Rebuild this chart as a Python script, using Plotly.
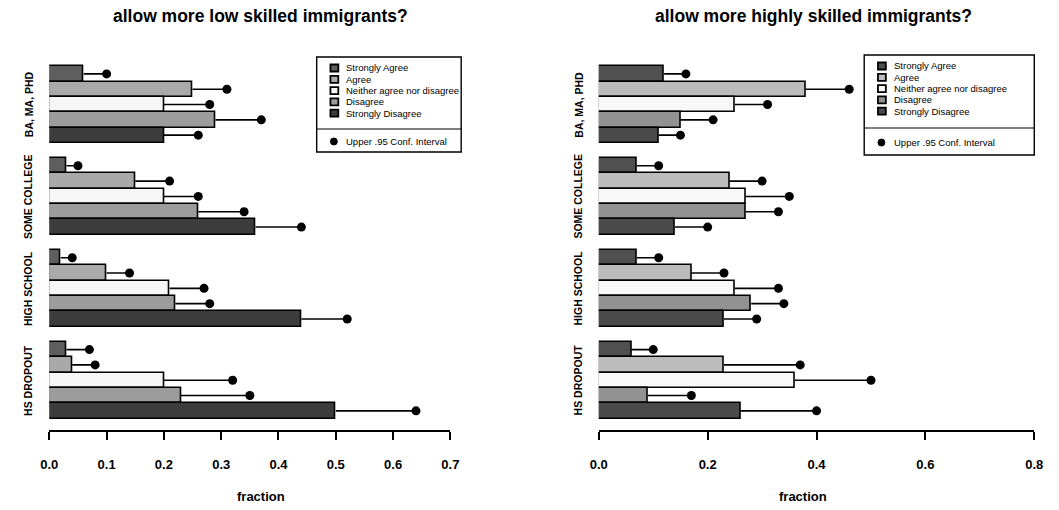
import plotly.graph_objects as go

# Education groups, bottom to top
groups = ["HS DROPOUT", "HIGH SCHOOL", "SOME COLLEGE", "BA, MA, PHD"]
# Response categories, drawn top to bottom inside each group
responses = ["Strongly Agree", "Agree", "Neither agree nor disagree",
             "Disagree", "Strongly Disagree"]

# Fractions per response, one entry per group (HS dropout .. BA)
low_share = {
    "Strongly Agree":             [0.03, 0.02, 0.03, 0.06],
    "Agree":                      [0.04, 0.10, 0.15, 0.25],
    "Neither agree nor disagree": [0.20, 0.21, 0.20, 0.20],
    "Disagree":                   [0.23, 0.22, 0.26, 0.29],
    "Strongly Disagree":          [0.50, 0.44, 0.36, 0.20],
}
low_upper = {
    "Strongly Agree":             [0.07, 0.04, 0.05, 0.10],
    "Agree":                      [0.08, 0.14, 0.21, 0.31],
    "Neither agree nor disagree": [0.32, 0.27, 0.26, 0.28],
    "Disagree":                   [0.35, 0.28, 0.34, 0.37],
    "Strongly Disagree":          [0.64, 0.52, 0.44, 0.26],
}
high_share = {
    "Strongly Agree":             [0.06, 0.07, 0.07, 0.12],
    "Agree":                      [0.23, 0.17, 0.24, 0.38],
    "Neither agree nor disagree": [0.36, 0.25, 0.27, 0.25],
    "Disagree":                   [0.09, 0.28, 0.27, 0.15],
    "Strongly Disagree":          [0.26, 0.23, 0.14, 0.11],
}
high_upper = {
    "Strongly Agree":             [0.10, 0.11, 0.11, 0.16],
    "Agree":                      [0.37, 0.23, 0.30, 0.46],
    "Neither agree nor disagree": [0.50, 0.33, 0.35, 0.31],
    "Disagree":                   [0.17, 0.34, 0.33, 0.21],
    "Strongly Disagree":          [0.40, 0.29, 0.20, 0.15],
}

titles = ["allow more low skilled immigrants?", "allow more highly skilled immigrants?"]
left_ticks = [0.0, 0.1, 0.2, 0.3, 0.4, 0.5, 0.6, 0.7]
right_ticks = [0.0, 0.2, 0.4, 0.6, 0.8]

left_colors = ["#5e5e5e", "#a9a9a9", "#f6f6f6", "#9c9c9c", "#3c3c3c"]
right_colors = ["#505050", "#bcbcbc", "#f8f8f8", "#929292", "#4a4a4a"]

W, H = 1059, 510
SANS = "Liberation Sans, Arial"


def px(x):
    return x / W


def py(y):
    return 1 - y / H


def bar_pos(gi, ri):
    # one empty slot before each group, five touching bars per group
    return gi * 6 + (4 - ri) + 1.5


fig = go.Figure()

panels = [
    (low_share, low_upper, left_colors, "x", "y"),
    (high_share, high_upper, right_colors, "x2", "y2"),
]
for share, upper, colors, xa, ya in panels:
    for ri, resp in enumerate(responses):
        ys = [bar_pos(gi, ri) for gi in range(len(groups))]
        vals = share[resp]
        ups = upper[resp]
        fig.add_trace(go.Bar(
            x=vals, y=ys, orientation="h", width=1.0,
            marker=dict(color=colors[ri], line=dict(color="black", width=1.6)),
            xaxis=xa, yaxis=ya, showlegend=False, hoverinfo="skip",
        ))
        # whisker from the bar end out to the upper confidence bound
        lx, ly = [], []
        for v, u, yy in zip(vals, ups, ys):
            lx += [v, u, None]
            ly += [yy, yy, None]
        fig.add_trace(go.Scatter(
            x=lx, y=ly, mode="lines", line=dict(color="black", width=1.6),
            xaxis=xa, yaxis=ya, showlegend=False, hoverinfo="skip",
        ))
        fig.add_trace(go.Scatter(
            x=ups, y=ys, mode="markers",
            marker=dict(color="black", size=9),
            xaxis=xa, yaxis=ya, showlegend=False, hoverinfo="skip",
        ))

ydom = [py(430), py(54)]
yr = [0.25, 24.8]
axis_font = dict(family=SANS, size=13, color="black", weight="bold")
common_x = dict(showline=True, linecolor="black", linewidth=1.6, ticks="outside",
                ticklen=8, tickwidth=1.6, tickcolor="black", showgrid=False,
                zeroline=False, tickfont=axis_font, ticklabelstandoff=14)
fig.update_layout(
    width=W, height=H, autosize=False,
    margin=dict(l=0, r=0, t=0, b=0),
    plot_bgcolor="white", paper_bgcolor="white",
    bargap=0,
    xaxis=dict(domain=[px(41), px(449)], range=[0, 0.7], tickvals=left_ticks,
               ticktext=[f"{t:.1f}" for t in left_ticks], anchor="y", **common_x),
    xaxis2=dict(domain=[px(600), px(1043)], range=[0, 0.8], tickvals=right_ticks,
                ticktext=[f"{t:.1f}" for t in right_ticks], anchor="y2", **common_x),
    yaxis=dict(domain=ydom, range=yr, visible=False, anchor="x"),
    yaxis2=dict(domain=ydom, range=yr, visible=False, anchor="x2"),
)

annotations = []
shapes = []
title_font = dict(family=SANS, size=17.5, color="black")

# titles and x-axis names
for title, cx in zip(titles, [256, 818]):
    annotations.append(dict(text=f"<b>{title}</b>", x=px(cx), y=py(16), xref="paper",
                            yref="paper", showarrow=False, font=title_font,
                            xanchor="center", yanchor="middle"))
for cx in [256, 808]:
    annotations.append(dict(text="<b>fraction</b>", x=px(cx), y=py(496), xref="paper",
                            yref="paper", showarrow=False,
                            font=dict(family=SANS, size=13, color="black"),
                            xanchor="center", yanchor="middle"))

# group names along the left of each panel
for ya, gx in [("y", 20), ("y2", 579)]:
    for gi, g in enumerate(groups):
        annotations.append(dict(text=f"<b>{g}</b>", x=px(gx), y=gi * 6 + 3.5,
                                xref="paper", yref=ya, showarrow=False, textangle=-90,
                                font=dict(family=SANS, size=10.5, color="black"),
                                xanchor="center", yanchor="middle"))

# boxed keys
legend_boxes = [
    (313, 460, 57, 129, 152, left_colors),
    (870, 1043, 55, 128, 155, right_colors),
]
for x0, x1, top, sep, bottom, colors in legend_boxes:
    shapes.append(dict(type="rect", xref="paper", yref="paper",
                       x0=px(x0), x1=px(x1), y0=py(bottom), y1=py(top),
                       line=dict(color="black", width=1.4), fillcolor="white"))
    shapes.append(dict(type="line", xref="paper", yref="paper",
                       x0=px(x0), x1=px(x1), y0=py(sep), y1=py(sep),
                       line=dict(color="black", width=1.2)))
    for ri, resp in enumerate(responses):
        cy = top + 11 + ri * 11.3
        sx = x0 + 18
        shapes.append(dict(type="rect", xref="paper", yref="paper",
                           x0=px(sx - 4), x1=px(sx + 4), y0=py(cy + 3.5), y1=py(cy - 3.5),
                           line=dict(color="black", width=1.8), fillcolor=colors[ri]))
        annotations.append(dict(text=resp, x=px(x0 + 28), y=py(cy), xref="paper",
                                yref="paper", showarrow=False, xanchor="left",
                                yanchor="middle",
                                font=dict(family=SANS, size=9.5, color="black")))
    cy = (sep + bottom) / 2 + 1
    shapes.append(dict(type="circle", xref="paper", yref="paper",
                       x0=px(x0 + 14), x1=px(x0 + 21), y0=py(cy + 3.5), y1=py(cy - 3.5),
                       line=dict(color="black", width=1), fillcolor="black"))
    annotations.append(dict(text="Upper .95 Conf. Interval", x=px(x0 + 28), y=py(cy),
                            xref="paper", yref="paper", showarrow=False, xanchor="left",
                            yanchor="middle",
                            font=dict(family=SANS, size=9.5, color="black")))

fig.update_layout(annotations=annotations, shapes=shapes)
fig.write_html("out.html")
